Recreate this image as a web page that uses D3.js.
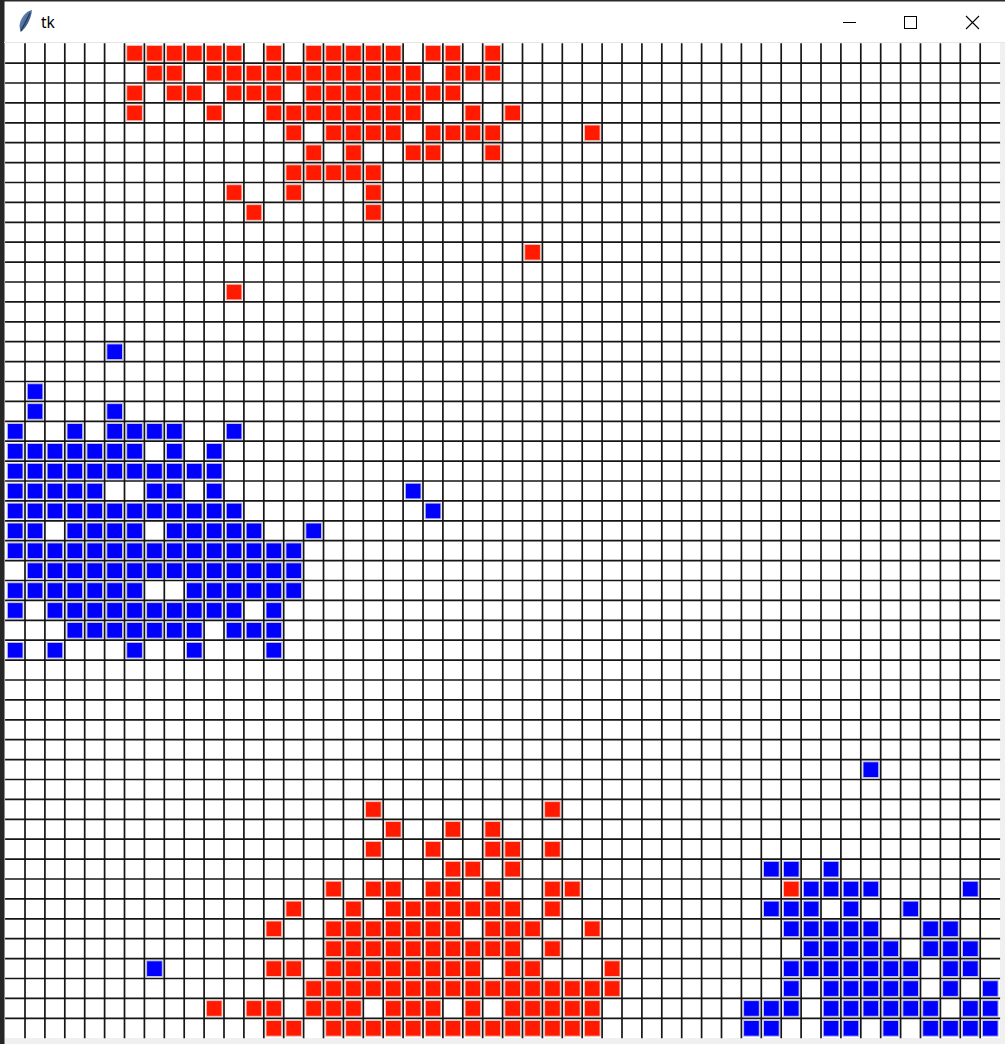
<!DOCTYPE html>
<html><head><meta charset="utf-8">
<script src="https://cdn.jsdelivr.net/npm/d3@7"></script>
<style>html,body{margin:0;padding:0;background:#fff;overflow:hidden}</style>
</head><body>
<svg id="chart" width="1005" height="1044"></svg>
<script>
// ---- data ----
const nCols = 50, nRows = 50;
const windowTitle = "tk";
const redRows = [
  [0, [6,7,8,9,10,11,13,15,16,17,18,19,21,22,24]],
  [1, [7,8,10,11,12,13,14,15,16,17,18,19,20,22,23,24]],
  [2, [6,8,9,11,12,13,15,16,17,18,19,20,21,22]],
  [3, [6,10,13,14,15,16,17,18,19,20,23,25]],
  [4, [14,16,17,18,19,21,22,23,24,29]],
  [5, [15,17,20,21,24]],
  [6, [14,15,16,17,18]],
  [7, [11,14,18]],
  [8, [12,18]],
  [10, [26]],
  [12, [11]],
  [38, [18,27]],
  [39, [19,22,24]],
  [40, [18,21,24,25,27]],
  [41, [22,23,25]],
  [42, [16,18,19,21,22,24,27,28,39]],
  [43, [14,17,19,20,21,22,23,24,25,27]],
  [44, [13,16,17,18,19,20,21,22,24,25,26,29]],
  [45, [16,17,18,19,20,21,22,23,24,25,27]],
  [46, [13,14,16,17,18,19,20,21,22,23,25,26,30]],
  [47, [15,16,17,18,19,20,21,22,23,24,25,26,27,28,29,30]],
  [48, [10,12,13,15,16,17,19,20,21,23,25,26,27,28,29]],
  [49, [13,14,16,17,18,19,20,21,22,23,24,25,26,27,28,29]]
];
const blueRows = [
  [15, [5]],
  [17, [1]],
  [18, [1,5]],
  [19, [0,3,5,6,7,8,11]],
  [20, [0,1,2,3,4,5,6,8,10]],
  [21, [0,1,2,3,4,5,6,7,8,9,10]],
  [22, [0,1,2,3,4,7,8,10,20]],
  [23, [0,1,2,3,4,5,6,7,8,9,10,11,21]],
  [24, [0,1,3,4,5,6,8,9,10,11,12,15]],
  [25, [0,1,2,3,4,5,6,7,8,9,10,11,12,13,14]],
  [26, [1,2,3,4,5,6,7,8,9,10,11,12,13,14]],
  [27, [0,1,2,3,4,5,6,9,10,11,12,13,14]],
  [28, [0,2,3,4,5,6,7,8,9,10,11,13]],
  [29, [3,4,5,6,7,8,9,11,12,13]],
  [30, [0,2,6,9,13]],
  [36, [43]],
  [41, [38,39,41]],
  [42, [40,41,42,43,48]],
  [43, [38,39,40,42,45]],
  [44, [39,40,41,42,43,46,47]],
  [45, [40,41,42,43,44,46,47,48]],
  [46, [7,39,40,41,42,43,44,45,47,48]],
  [47, [39,41,42,43,44,45,47,49]],
  [48, [37,38,39,41,42,43,44,45,46,48,49]],
  [49, [37,38,41,42,44,46,47,48,49]]
];
const colors = {red: "#ff1a00", blue: "#0000ff"};

// ---- build ----
const cells = [];
redRows.forEach(([r, cs]) => cs.forEach(c => cells.push({r, c, k: "red"})));
blueRows.forEach(([r, cs]) => cs.forEach(c => cells.push({r, c, k: "blue"})));

const svg = d3.select("#chart");
const W = 1005, H = 1044;

// window chrome
svg.append("rect").attr("x",0).attr("y",0).attr("width",W).attr("height",H).attr("fill","#f0f0f0");
svg.append("rect").attr("x",0).attr("y",0).attr("width",W).attr("height",43).attr("fill","#ffffff");
svg.append("rect").attr("x",0).attr("y",0).attr("width",W).attr("height",1.5).attr("fill","#2a2a2a");
svg.append("rect").attr("x",0).attr("y",0).attr("width",4.5).attr("height",H).attr("fill","#262626");
svg.append("line").attr("x1",4).attr("x2",W).attr("y1",42.5).attr("y2",42.5).attr("stroke","#e6e6e6");

// feather icon
const defs = svg.append("defs");
const lg = defs.append("linearGradient").attr("id","feather").attr("x1","0").attr("y1","0").attr("x2","1").attr("y2","1");
lg.append("stop").attr("offset","0").attr("stop-color","#7fa3cf");
lg.append("stop").attr("offset","0.6").attr("stop-color","#3d5f8f");
lg.append("stop").attr("offset","1").attr("stop-color","#1f3456");
svg.append("path")
  .attr("d","M32,10 C26,11 20,18 19.5,26 L20.5,32 L22,31 C27,26 31,19 32,10 Z")
  .attr("fill","url(#feather)");
svg.append("path").attr("d","M30,13 L21,31").attr("stroke","#16243b").attr("stroke-width",0.9).attr("fill","none");
svg.append("text").attr("x",41).attr("y",28).text(windowTitle)
  .attr("font-family","'Noto Sans', 'DejaVu Sans', sans-serif").attr("font-size",15.5).attr("fill","#000");

// title buttons
svg.append("line").attr("x1",843).attr("x2",856).attr("y1",22.5).attr("y2",22.5).attr("stroke","#000").attr("stroke-width",1);
svg.append("rect").attr("x",904.5).attr("y",16.5).attr("width",12).attr("height",12).attr("fill","none").attr("stroke","#000").attr("stroke-width",1);
svg.append("path").attr("d","M966,16 L979,29 M979,16 L966,29").attr("stroke","#000").attr("stroke-width",1.1);

// canvas
const x = d3.scaleBand().domain(d3.range(nCols)).range([5.1, 1000.1]).paddingInner(0).paddingOuter(0);
const y = d3.scaleBand().domain(d3.range(nRows)).range([43.2, 1038.2]).paddingInner(0).paddingOuter(0);
svg.append("rect").attr("x",5).attr("y",43).attr("width",995).attr("height",995).attr("fill","#fff");

const bw = x.bandwidth(), bh = y.bandwidth();
svg.append("g").selectAll("rect").data(cells).join("rect")
  .attr("x", d => x(d.c) + 2.2)
  .attr("y", d => y(d.r) + 2.2)
  .attr("width", bw - 4.2)
  .attr("height", bh - 4.2)
  .attr("fill", d => colors[d.k])
  .attr("stroke", d => d.k === "red" ? "#f3c7c0" : "#c2c2ee")
  .attr("stroke-width", 1);

const grid = svg.append("g").attr("stroke","#151515").attr("stroke-width",1.7);
grid.selectAll("line.v").data(d3.range(1, nCols)).join("line").attr("class","v")
  .attr("x1", d => x(d)).attr("x2", d => x(d)).attr("y1", 43.2).attr("y2", 1038.2);
grid.selectAll("line.h").data(d3.range(1, nRows)).join("line").attr("class","h")
  .attr("y1", d => y(d)).attr("y2", d => y(d)).attr("x1", 5.1).attr("x2", 1000.1);
</script>
</body></html>
